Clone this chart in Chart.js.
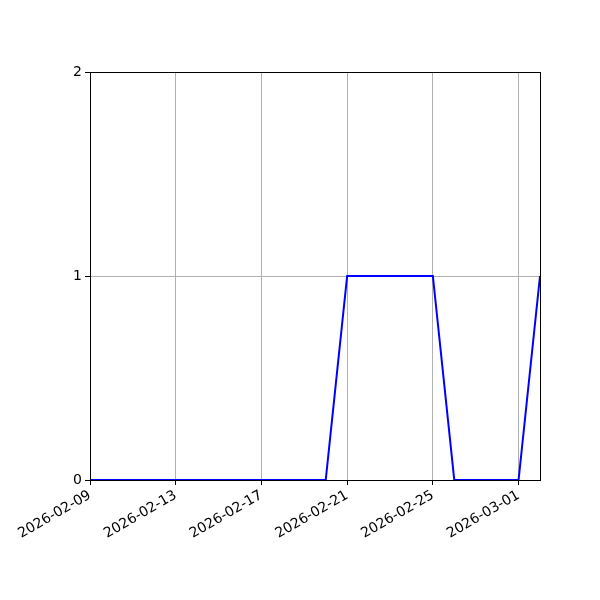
<!DOCTYPE html>
<html>
<head>
<meta charset="utf-8">
<script src="https://cdn.jsdelivr.net/npm/chart.js@4"></script>
<style>
  body { margin: 0; background: #fff; }
  #wrap { width: 600px; height: 600px; }
</style>
</head>
<body>
<div id="wrap"><canvas id="chart" width="600" height="600"></canvas></div>
<script>
// one entry per day
var dates = [
  "2026-02-09", "2026-02-10", "2026-02-11", "2026-02-12", "2026-02-13", "2026-02-14",
  "2026-02-15", "2026-02-16", "2026-02-17", "2026-02-18", "2026-02-19", "2026-02-20",
  "2026-02-21", "2026-02-22", "2026-02-23", "2026-02-24", "2026-02-25", "2026-02-26",
  "2026-02-27", "2026-02-28", "2026-03-01", "2026-03-02"
];
var counts = [0, 0, 0, 0, 0, 0, 0, 0, 0, 0, 0, 0, 1, 1, 1, 1, 1, 0, 0, 0, 0, 1];
var yTicks = [0, 1, 2];

var points = dates.map(function (d, i) { return { x: i, y: counts[i] }; });

// matplotlib style full frame
var frame = {
  id: 'frame',
  afterDraw: function (chart) {
    var a = chart.chartArea, ctx = chart.ctx;
    ctx.save();
    ctx.strokeStyle = '#000';
    ctx.lineWidth = 1;
    ctx.strokeRect(a.left + 0.5, a.top + 0.5, a.right - a.left, a.bottom - a.top);
    ctx.restore();
  }
};

Chart.defaults.font.family = "'DejaVu Sans', sans-serif";
Chart.defaults.font.size = 14;
Chart.defaults.color = '#000';

new Chart(document.getElementById('chart'), {
  type: 'line',
  data: {
    datasets: [{
      data: points,
      borderColor: '#0000ff',
      borderWidth: 2,
      pointRadius: 0,
      tension: 0,
      fill: false
    }]
  },
  options: {
    responsive: false,
    animation: false,
    plugins: { legend: { display: false }, tooltip: { enabled: false } },
    layout: { padding: { left: 0, right: 60, top: 72, bottom: 0 } },
    scales: {
      x: {
        type: 'linear',
        min: 0,
        max: dates.length - 1,
        afterFit: function (s) { s.height = 120; },
        afterBuildTicks: function (s) {
          var t = [];
          for (var i = 0; i < dates.length; i += 4) t.push({ value: i });
          s.ticks = t;
        },
        ticks: {
          minRotation: 30,
          maxRotation: 30,
          autoSkip: false,
          padding: 2,
          callback: function (v) { return dates[v]; }
        },
        grid: { color: '#b0b0b0', tickColor: '#000', tickLength: 5 },
        border: { color: '#000' }
      },
      y: {
        min: 0,
        max: 2,
        afterFit: function (s) { s.width = 90; },
        afterBuildTicks: function (s) {
          s.ticks = yTicks.map(function (v) { return { value: v }; });
        },
        ticks: { padding: 3 },
        grid: { color: '#b0b0b0', tickColor: '#000', tickLength: 5 },
        border: { color: '#000' }
      }
    }
  },
  plugins: [frame]
});
</script>
</body>
</html>
